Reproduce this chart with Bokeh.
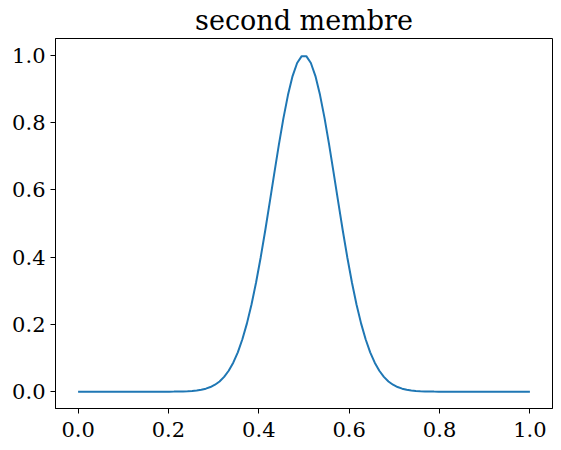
from bokeh.plotting import figure
from bokeh.embed import file_html
from bokeh.resources import INLINE
from bokeh.models import FixedTicker

title_text = "second membre"

x_values = [
    0.0, 0.0101, 0.0202, 0.0303, 0.0404, 0.0505, 0.0606, 0.0707, 0.0808, 0.0909,
    0.1010, 0.1111, 0.1212, 0.1313, 0.1414, 0.1515, 0.1616, 0.1717, 0.1818, 0.1919,
    0.2020, 0.2121, 0.2222, 0.2323, 0.2424, 0.2525, 0.2626, 0.2727, 0.2828, 0.2929,
    0.3030, 0.3131, 0.3232, 0.3333, 0.3434, 0.3535, 0.3636, 0.3737, 0.3838, 0.3939,
    0.4040, 0.4141, 0.4242, 0.4343, 0.4444, 0.4545, 0.4646, 0.4747, 0.4848, 0.4949,
    0.5051, 0.5152, 0.5253, 0.5354, 0.5455, 0.5556, 0.5657, 0.5758, 0.5859, 0.5960,
    0.6061, 0.6162, 0.6263, 0.6364, 0.6465, 0.6566, 0.6667, 0.6768, 0.6869, 0.6970,
    0.7071, 0.7172, 0.7273, 0.7374, 0.7475, 0.7576, 0.7677, 0.7778, 0.7879, 0.7980,
    0.8081, 0.8182, 0.8283, 0.8384, 0.8485, 0.8586, 0.8687, 0.8788, 0.8889, 0.8990,
    0.9091, 0.9192, 0.9293, 0.9394, 0.9495, 0.9596, 0.9697, 0.9798, 0.9899, 1.0,
]

y_values = [
    0.0, 0.0, 0.0, 0.0, 0.0, 0.0, 0.0, 0.0, 0.0, 0.0,
    0.0, 0.0, 0.0, 0.0, 0.0, 0.0, 0.0, 0.0, 0.0, 0.00008,
    0.00014, 0.00025, 0.00045, 0.00077, 0.00131, 0.00219, 0.00357, 0.00571, 0.00895, 0.01374,
    0.02066, 0.03044, 0.04395, 0.06218, 0.08618, 0.11705, 0.15575, 0.20307, 0.25941, 0.32469,
    0.39819, 0.47847, 0.56331, 0.64981, 0.73444, 0.81334, 0.88250, 0.93822, 0.97730, 0.99745,
    0.99745, 0.97730, 0.93822, 0.88250, 0.81334, 0.73444, 0.64981, 0.56331, 0.47847, 0.39819,
    0.32469, 0.25941, 0.20307, 0.15575, 0.11705, 0.08618, 0.06218, 0.04395, 0.03044, 0.02066,
    0.01374, 0.00895, 0.00571, 0.00357, 0.00219, 0.00131, 0.00077, 0.00045, 0.00025, 0.00014,
    0.00008, 0.0, 0.0, 0.0, 0.0, 0.0, 0.0, 0.0, 0.0, 0.0,
    0.0, 0.0, 0.0, 0.0, 0.0, 0.0, 0.0, 0.0, 0.0, 0.0,
]

tick_positions = [0.0, 0.2, 0.4, 0.6, 0.8, 1.0]
tick_labels = ["0.0", "0.2", "0.4", "0.6", "0.8", "1.0"]

FONT = "DejaVu Serif"

p = figure(
    width=556, height=444,
    x_range=(-0.05, 1.05), y_range=(-0.05, 1.05),
    output_backend="svg", toolbar_location=None,
    min_border_left=55, min_border_right=4, min_border_bottom=36, min_border_top=38,
    background_fill_color="white", border_fill_color="white",
)

p.title.text = title_text
p.title.text_font = FONT
p.title.text_font_size = "27px"
p.title.text_font_style = "normal"
p.title.text_color = "black"
p.title.align = "center"
p.title.standoff = 5

p.line(x_values, y_values, line_color="#1f77b4", line_width=2)

p.grid.visible = False
p.outline_line_color = "black"
p.outline_line_width = 1

labels_map = dict(zip(tick_positions, tick_labels))
for ax in (p.xaxis[0], p.yaxis[0]):
    ax.ticker = FixedTicker(ticks=tick_positions)
    ax.major_label_overrides = labels_map
    ax.major_tick_out = 5
    ax.major_tick_in = 0
    ax.minor_tick_out = 0
    ax.minor_tick_in = 0
    ax.major_tick_line_color = "black"
    ax.axis_line_color = "black"
    ax.major_label_text_font = FONT
    ax.major_label_text_font_size = "21px"
    ax.major_label_text_color = "black"
p.yaxis[0].major_label_standoff = 5
p.xaxis[0].major_label_standoff = 8

open("out.html", "w").write(file_html(p, INLINE))
